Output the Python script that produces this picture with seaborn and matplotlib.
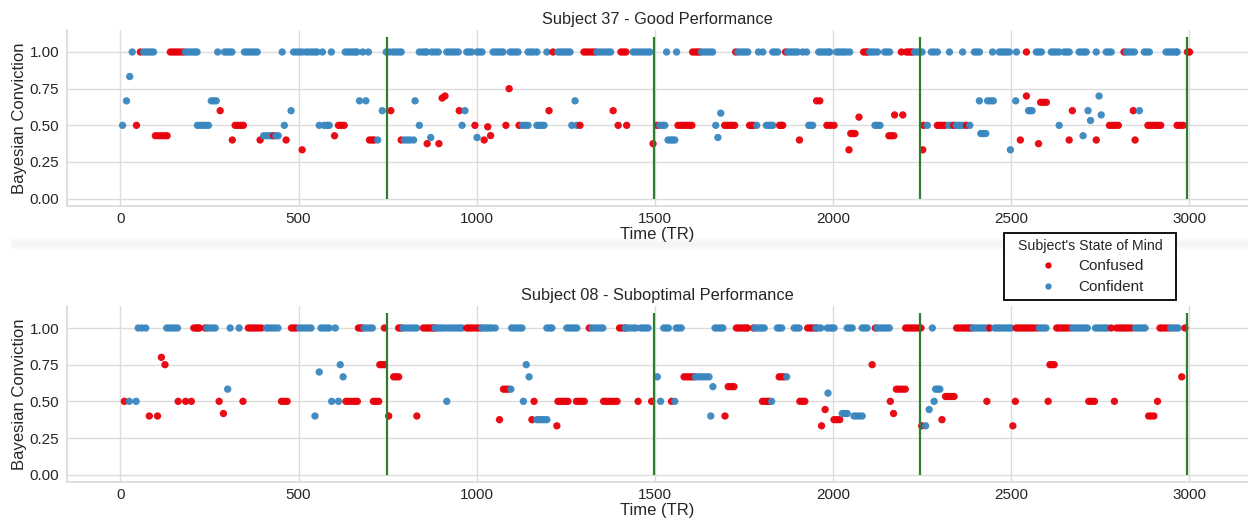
import matplotlib
matplotlib.use("Agg")
import numpy as np
import pandas as pd
import matplotlib.pyplot as plt
from matplotlib.lines import Line2D
from matplotlib.patches import Rectangle
from matplotlib.ticker import FormatStrFormatter
import seaborn as sns

# ---------------------------------------------------------------------------
# Data
# ---------------------------------------------------------------------------
states = ["Confused", "Confident"]
state_colors = {"Confused": "#e8000b", "Confident": "#3a87c0"}
run_boundaries = [748, 1497, 2245, 2994]   # end of each scanner run (TR)
x_ticks = [0, 500, 1000, 1500, 2000, 2500, 3000]
y_ticks = [0.0, 0.25, 0.5, 0.75, 1.0]

# Subject 37 - times (TR) at which conviction sits at 1.00
s37_confused_full = [56, 140, 147, 154, 161, 168, 176, 1214, 1301, 1308, 1316,
                     1324, 1332, 1405, 1412, 1419, 1606, 1613, 1620, 1626, 1727,
                     1867, 2086, 2093, 2097, 2192, 2206, 2212, 2218, 2223, 2543,
                     2817, 2995, 3001]
s37_confident_full = [33, 65, 72, 79, 86, 93, 182, 189, 196, 203, 210, 215, 273,
                      292, 299, 306, 313, 348, 355, 362, 369, 376, 384, 454, 486,
                      494, 502, 510, 521, 529, 537, 545, 552, 567, 592, 631, 638,
                      645, 652, 659, 664, 680, 696, 746, 755, 765, 773, 781, 788,
                      839, 848, 855, 860, 874, 883, 892, 916, 924, 932, 940, 948,
                      972, 979, 986, 1001, 1008, 1015, 1046, 1053, 1060, 1067, 1074,
                      1094, 1101, 1109, 1116, 1144, 1152, 1160, 1169, 1197, 1228,
                      1235, 1242, 1249, 1256, 1262, 1337, 1345, 1353, 1361, 1369,
                      1376, 1439, 1447, 1455, 1463, 1471, 1479, 1486, 1533, 1561,
                      1631, 1639, 1647, 1655, 1662, 1733, 1740, 1747, 1754, 1761,
                      1791, 1803, 1831, 1838, 1845, 1873, 1880, 1887, 1894, 1901,
                      1915, 1926, 1960, 1966, 1973, 1980, 1987, 1991, 2010, 2017,
                      2024, 2031, 2038, 2047, 2103, 2110, 2117, 2125, 2145, 2152,
                      2159, 2229, 2236, 2243, 2250, 2276, 2284, 2293, 2327, 2364,
                      2397, 2404, 2411, 2448, 2467, 2474, 2481, 2488, 2495, 2515,
                      2571, 2578, 2585, 2613, 2620, 2627, 2635, 2649, 2656, 2663,
                      2691, 2698, 2705, 2711, 2739, 2767, 2774, 2781, 2823, 2830,
                      2838, 2846, 2874, 2881, 2888, 2935, 2942, 2949, 2956, 2963,
                      2966]

# Subject 37 - (time, conviction) below the ceiling
s37_confused_mid = [
    (45, 0.5), (98, 0.429), (107, 0.429), (115, 0.429), (123, 0.429), (131, 0.429),
    (280, 0.6), (314, 0.4), (322, 0.5), (330, 0.5), (338, 0.5), (345, 0.5),
    (392, 0.4), (430, 0.429), (465, 0.4), (510, 0.333), (601, 0.429), (612, 0.5),
    (620, 0.5), (628, 0.5), (699, 0.4), (706, 0.4), (712, 0.4), (759, 0.6),
    (788, 0.4), (861, 0.375), (894, 0.375), (903, 0.686), (911, 0.7), (951, 0.6),
    (995, 0.5), (1021, 0.4), (1031, 0.49), (1039, 0.43), (1082, 0.5), (1091, 0.75),
    (1119, 0.5), (1203, 0.6), (1290, 0.5), (1383, 0.6), (1397, 0.5), (1421, 0.5),
    (1495, 0.375), (1506, 0.5), (1565, 0.5), (1573, 0.5), (1581, 0.5), (1589, 0.5),
    (1597, 0.5), (1604, 0.5), (1696, 0.5), (1703, 0.5), (1710, 0.5), (1717, 0.5),
    (1724, 0.5), (1766, 0.5), (1772, 0.5), (1778, 0.5), (1850, 0.5), (1855, 0.5),
    (1859, 0.5), (1906, 0.4), (1954, 0.667), (1963, 0.667), (1983, 0.5),
    (1993, 0.5), (2003, 0.5), (2045, 0.333), (2050, 0.444), (2056, 0.444),
    (2062, 0.444), (2073, 0.556), (2157, 0.429), (2164, 0.429), (2171, 0.429),
    (2173, 0.571), (2196, 0.571), (2252, 0.333), (2254, 0.5), (2293, 0.5),
    (2300, 0.5), (2307, 0.5), (2314, 0.5), (2339, 0.5), (2375, 0.5), (2526, 0.4),
    (2543, 0.7), (2577, 0.375), (2583, 0.657), (2591, 0.657), (2599, 0.657),
    (2663, 0.4), (2672, 0.6), (2739, 0.4), (2776, 0.5), (2784, 0.5), (2792, 0.5),
    (2801, 0.5), (2843, 0.6), (2848, 0.4), (2884, 0.5), (2891, 0.5), (2898, 0.5),
    (2905, 0.5), (2913, 0.5), (2920, 0.5), (2966, 0.5), (2974, 0.5), (2983, 0.5)]
s37_confident_mid = [
    (6, 0.5), (17, 0.667), (26, 0.833), (216, 0.5), (224, 0.5), (232, 0.5),
    (240, 0.5), (247, 0.5), (255, 0.667), (262, 0.667), (269, 0.667), (402, 0.429),
    (410, 0.429), (418, 0.429), (425, 0.429), (436, 0.429), (443, 0.429),
    (460, 0.5), (479, 0.6), (558, 0.5), (572, 0.5), (580, 0.5), (586, 0.5),
    (671, 0.667), (689, 0.667), (722, 0.4), (735, 0.6), (797, 0.4), (805, 0.4),
    (813, 0.4), (823, 0.4), (827, 0.667), (839, 0.5), (871, 0.417), (959, 0.5),
    (967, 0.6), (1001, 0.417), (1129, 0.5), (1137, 0.5), (1144, 0.5), (1169, 0.5),
    (1176, 0.5), (1183, 0.5), (1189, 0.5), (1267, 0.5), (1276, 0.667), (1281, 0.5),
    (1514, 0.5), (1521, 0.5), (1528, 0.5), (1537, 0.4), (1544, 0.4), (1550, 0.4),
    (1556, 0.4), (1671, 0.5), (1677, 0.417), (1685, 0.583), (1786, 0.5),
    (1813, 0.5), (1820, 0.5), (1826, 0.5), (1831, 0.5), (1932, 0.5), (1938, 0.5),
    (1943, 0.5), (2118, 0.5), (2125, 0.5), (2132, 0.5), (2265, 0.5), (2325, 0.5),
    (2332, 0.5), (2346, 0.5), (2353, 0.5), (2360, 0.5), (2366, 0.5), (2384, 0.5),
    (2411, 0.667), (2434, 0.667), (2442, 0.667), (2450, 0.667), (2415, 0.444),
    (2422, 0.444), (2429, 0.444), (2498, 0.333), (2513, 0.667), (2549, 0.6),
    (2554, 0.6), (2559, 0.6), (2635, 0.5), (2702, 0.429), (2716, 0.6),
    (2723, 0.533), (2747, 0.7), (2753, 0.571), (2860, 0.6)]

# Subject 08 - times (TR) at which conviction sits at 1.00
s08_confused_full = [206, 212, 217, 222, 238, 359, 366, 373, 380, 388, 396, 480,
                     487, 494, 668, 674, 679, 741, 781, 788, 850, 857, 864, 871,
                     878, 883, 972, 979, 986, 993, 1001, 1009, 1316, 1401, 1408,
                     1417, 1729, 1736, 1743, 1750, 1757, 1760, 1777, 1929, 1937,
                     1944, 1952, 2119, 2204, 2211, 2218, 2225, 2232, 2240, 2247,
                     2347, 2354, 2361, 2368, 2375, 2382, 2388, 2440, 2514, 2521,
                     2528, 2535, 2542, 2549, 2556, 2563, 2572, 2628, 2635, 2642,
                     2649, 2656, 2665, 2781, 2796, 2803, 2810, 2817, 2824, 2831,
                     2839, 2918, 2925, 2933, 2941, 2988]
s08_confident_full = [50, 60, 71, 130, 137, 144, 151, 160, 243, 250, 258, 266,
                      308, 333, 410, 417, 425, 433, 442, 503, 511, 519, 527, 535,
                      563, 571, 579, 586, 603, 684, 692, 700, 707, 793, 801, 809,
                      817, 825, 831, 883, 890, 897, 904, 911, 920, 928, 936, 944,
                      951, 958, 1014, 1021, 1028, 1035, 1042, 1052, 1098, 1105,
                      1112, 1120, 1127, 1197, 1205, 1211, 1253, 1260, 1267, 1274,
                      1281, 1324, 1332, 1340, 1347, 1354, 1417, 1424, 1432, 1440,
                      1447, 1460, 1467, 1474, 1481, 1525, 1532, 1538, 1560, 1567,
                      1574, 1669, 1676, 1684, 1691, 1781, 1788, 1795, 1801, 1807,
                      1844, 1850, 1856, 1891, 1898, 1905, 1952, 1959, 1966, 1984,
                      1991, 1997, 2003, 2040, 2047, 2054, 2082, 2089, 2096, 2124,
                      2131, 2138, 2145, 2152, 2158, 2279, 2393, 2400, 2407, 2414,
                      2421, 2428, 2435, 2454, 2461, 2468, 2475, 2482, 2489, 2495,
                      2500, 2579, 2586, 2592, 2598, 2672, 2679, 2686, 2693, 2700,
                      2707, 2714, 2737, 2744, 2751, 2758, 2765, 2770, 2849, 2856,
                      2863, 2870, 2876, 2948, 2955, 2962, 2969]

# Subject 08 - (time, conviction) below the ceiling
s08_confused_mid = [
    (11, 0.5), (81, 0.4), (104, 0.4), (115, 0.8), (125, 0.75), (162, 0.5),
    (183, 0.5), (199, 0.5), (277, 0.5), (289, 0.417), (344, 0.5), (452, 0.5),
    (460, 0.5), (468, 0.5), (633, 0.5), (641, 0.5), (649, 0.5), (657, 0.5),
    (665, 0.5), (710, 0.5), (717, 0.5), (725, 0.5), (728, 0.75), (734, 0.75),
    (741, 0.75), (753, 0.4), (767, 0.667), (774, 0.667), (781, 0.667), (832, 0.4),
    (1064, 0.375), (1075, 0.583), (1082, 0.583), (1089, 0.583), (1155, 0.375),
    (1161, 0.5), (1225, 0.333), (1228, 0.5), (1235, 0.5), (1242, 0.5), (1249, 0.5),
    (1256, 0.5), (1280, 0.5), (1287, 0.5), (1295, 0.5), (1302, 0.5), (1356, 0.5),
    (1363, 0.5), (1370, 0.5), (1378, 0.5), (1386, 0.5), (1394, 0.5), (1453, 0.5),
    (1491, 0.5), (1547, 0.5), (1582, 0.667), (1589, 0.667), (1596, 0.667),
    (1603, 0.667), (1610, 0.667), (1697, 0.4), (1706, 0.6), (1714, 0.6),
    (1722, 0.6), (1802, 0.5), (1809, 0.5), (1815, 0.5), (1821, 0.5), (1849, 0.667),
    (1856, 0.667), (1863, 0.667), (1907, 0.5), (1914, 0.5), (1921, 0.5),
    (1968, 0.333), (1978, 0.444), (2003, 0.375), (2011, 0.375), (2019, 0.375),
    (2110, 0.75), (2161, 0.5), (2170, 0.417), (2178, 0.583), (2186, 0.583),
    (2194, 0.583), (2203, 0.583), (2249, 0.333), (2306, 0.375), (2316, 0.533),
    (2324, 0.533), (2332, 0.533), (2340, 0.533), (2432, 0.5), (2505, 0.333),
    (2512, 0.5), (2604, 0.5), (2609, 0.75), (2615, 0.75), (2621, 0.75),
    (2718, 0.5), (2726, 0.5), (2734, 0.5), (2790, 0.5), (2886, 0.4), (2893, 0.4),
    (2901, 0.4), (2911, 0.5), (2979, 0.667)]
s08_confident_mid = [
    (25, 0.5), (44, 0.5), (301, 0.583), (546, 0.4), (558, 0.7), (593, 0.5),
    (612, 0.5), (617, 0.75), (625, 0.667), (916, 0.5), (1096, 0.583), (1131, 0.5),
    (1139, 0.75), (1147, 0.667), (1169, 0.375), (1176, 0.375), (1183, 0.375),
    (1190, 0.375), (1197, 0.375), (1507, 0.667), (1516, 0.5), (1556, 0.5),
    (1614, 0.667), (1621, 0.667), (1628, 0.667), (1636, 0.667), (1644, 0.667),
    (1652, 0.667), (1657, 0.4), (1663, 0.6), (1828, 0.5), (1870, 0.667),
    (1986, 0.556), (2026, 0.417), (2033, 0.417), (2040, 0.417), (2059, 0.4),
    (2066, 0.4), (2074, 0.4), (2082, 0.4), (2260, 0.333), (2270, 0.444),
    (2284, 0.5), (2288, 0.583), (2294, 0.583), (2300, 0.583)]

panels = [
    ("Subject 37 - Good Performance",
     s37_confused_full, s37_confident_full, s37_confused_mid, s37_confident_mid),
    ("Subject 08 - Suboptimal Performance",
     s08_confused_full, s08_confident_full, s08_confused_mid, s08_confident_mid),
]


def build_frame(confused_full, confident_full, confused_mid, confident_mid):
    rows = []
    rows += [(t, 1.0, "Confused") for t in confused_full]
    rows += [(t, 1.0, "Confident") for t in confident_full]
    rows += [(t, v, "Confused") for t, v in confused_mid]
    rows += [(t, v, "Confident") for t, v in confident_mid]
    df = pd.DataFrame(rows, columns=["time", "conviction", "state"])
    return df.sort_values("time", kind="stable").reset_index(drop=True)


# ---------------------------------------------------------------------------
# Figure
# ---------------------------------------------------------------------------
sns.set_theme(style="whitegrid")
plt.rcParams["font.family"] = ["Liberation Sans", "DejaVu Sans"]
plt.rcParams["axes.edgecolor"] = "#d9d9d9"
plt.rcParams["grid.color"] = "#dcdcdc"

fig = plt.figure(figsize=(12.48, 5.2), dpi=100)

# faint shaded divider between the two panels
band = fig.add_axes([11 / 1248, 1 - 251 / 520, 1 - 11 / 1248, 14 / 520], zorder=-1)
grad = np.array([1.0, 0.992, 0.985, 0.978, 0.972, 0.966, 0.962, 0.96, 0.96,
                 0.962, 0.968, 0.978, 0.99, 0.998])[:, None]
band.imshow(grad, cmap="gray", vmin=0, vmax=1, aspect="auto",
            interpolation="bilinear")
band.axis("off")

axes = [fig.add_axes([67 / 1248, 1 - 206 / 520, 1 - 67 / 1248, 176 / 520]),
        fig.add_axes([67 / 1248, 1 - 482 / 520, 1 - 67 / 1248, 176 / 520])]

for ax, (title, cf, cc, mf, mc) in zip(axes, panels):
    df = build_frame(cf, cc, mf, mc)
    sns.scatterplot(data=df, x="time", y="conviction", hue="state",
                    hue_order=states, palette=state_colors, s=28, linewidth=0,
                    alpha=0.95, legend=False, ax=ax, zorder=3)
    ax.vlines(run_boundaries, 0, 1.1, color="#2f7d2f", linewidth=1.6, zorder=4)
    ax.set_xlim(-150, 3165)
    ax.set_ylim(-0.05, 1.15)
    ax.set_xticks(x_ticks)
    ax.set_yticks(y_ticks)
    ax.yaxis.set_major_formatter(FormatStrFormatter("%.2f"))
    ax.tick_params(axis="both", length=0, labelsize=11, colors="#262626")
    ax.tick_params(axis="x", pad=4)
    ax.tick_params(axis="y", pad=5.5)
    ax.set_title(title, fontsize=11.8, color="#262626", pad=4)
    ax.set_xlabel("Time (TR)", fontsize=12, color="#262626", labelpad=1)
    ax.set_ylabel("Bayesian Conviction", fontsize=12, color="#262626", labelpad=2)
    sns.despine(ax=ax)

# legend: white box with a black border straddling the two panels
fig.add_artist(Rectangle((1004 / 1248, 1 - 300 / 520), 172 / 1248, 67 / 520,
                         transform=fig.transFigure, facecolor="white",
                         edgecolor="black", linewidth=1.3, zorder=9))
handles = [Line2D([], [], marker="o", linestyle="", markersize=4.5,
                  markerfacecolor=state_colors[s], markeredgewidth=0)
           for s in states]
leg = fig.legend(handles, states, title="Subject's State of Mind",
                 loc="center", bbox_to_anchor=(1090 / 1248, 1 - 266.5 / 520),
                 frameon=False, fontsize=11, title_fontsize=10.2,
                 handletextpad=1.2, borderpad=0.2, labelspacing=0.42,
                 handlelength=1.5)
leg.set_zorder(10)

fig.savefig("out.png", dpi=100)
